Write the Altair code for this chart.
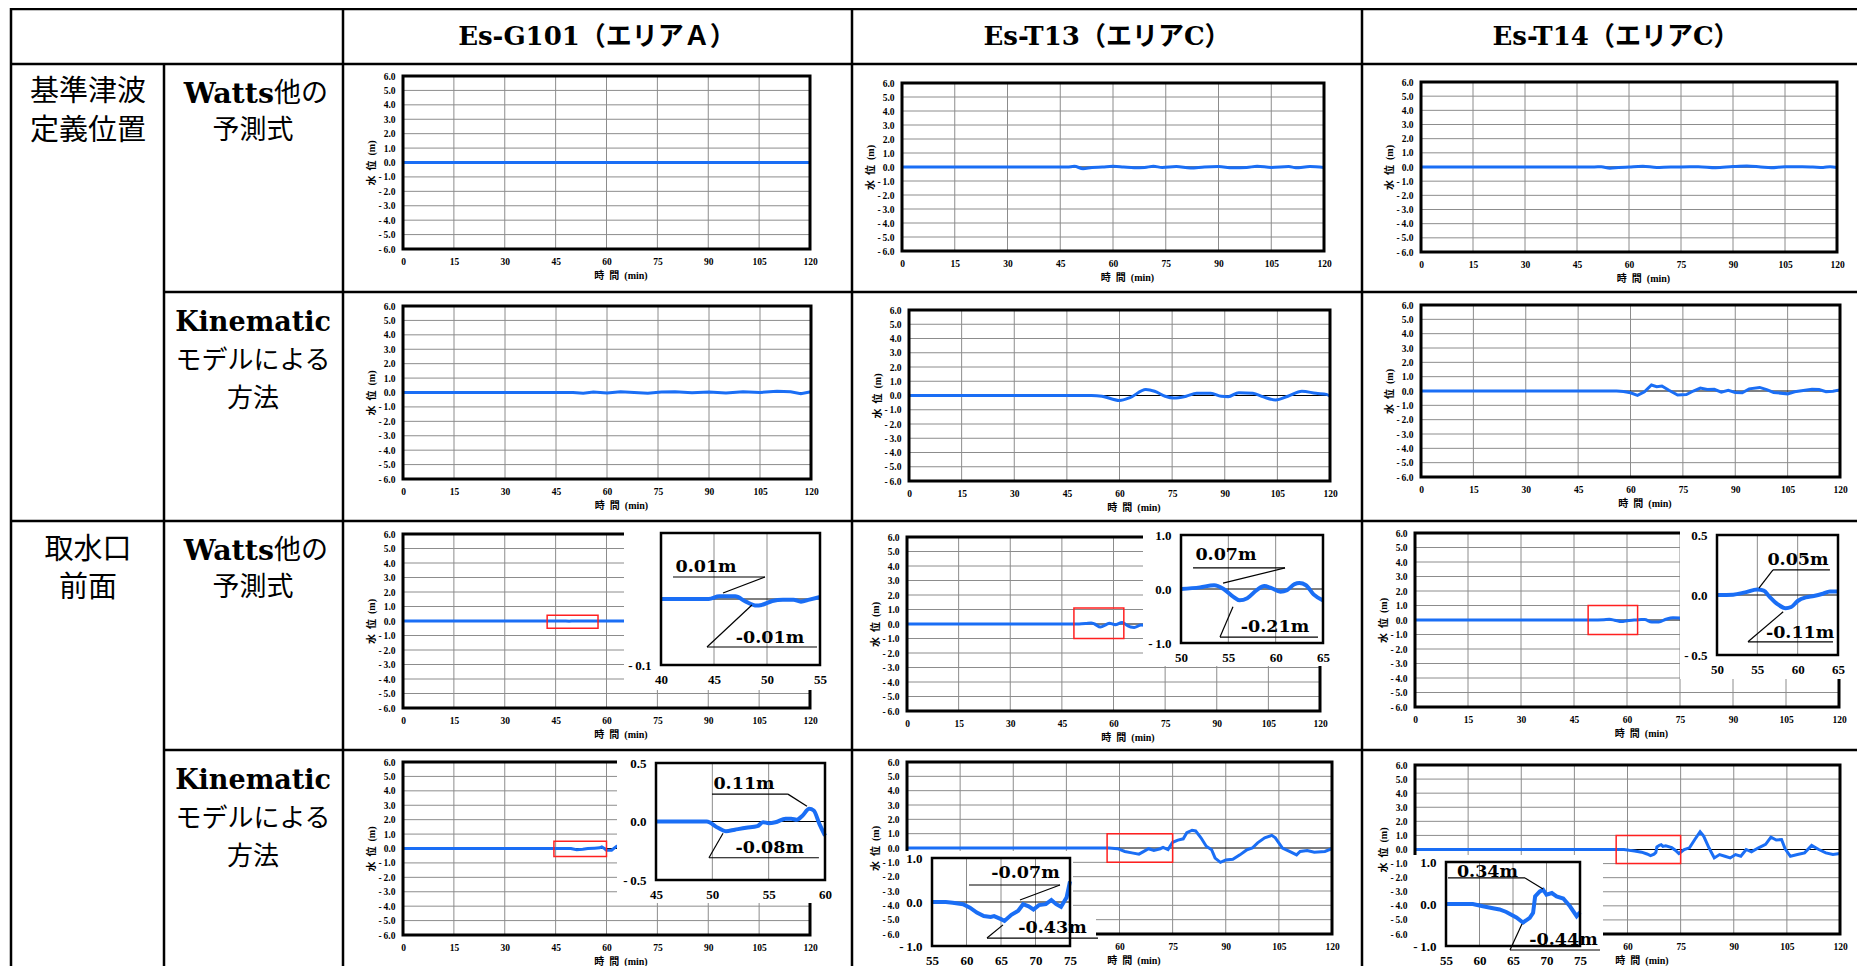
import altair as alt
import pandas as pd

# ======================= DATA =======================
TIME_TICKS = [0, 15, 30, 45, 60, 75, 90, 105, 120]
LEVEL_TICKS = [-6, -5, -4, -3, -2, -1, 0, 1, 2, 3, 4, 5, 6]

X_TITLE = "時\u2002間\u2002(min)"
Y_TITLE = "水\u2002位\u2002(m)"

COLUMN_TITLES = ["Es-G101（エリアＡ）", "Es-T13（エリアC）", "Es-T14（エリアC）"]
PLACE_TITLES = [["基準津波", "定義位置"], ["取水口", "前面"]]
WATTS_TITLE = ["Watts", "他の", "予測式"]
KINEMATIC_TITLE = ["Kinematic", "モデルによる", "方法"]

# --- 基準津波定義位置 / Watts他の予測式
DEF_WATTS_G101_T = [0, 30, 60, 90, 120]
DEF_WATTS_G101_V = [0, 0, 0, 0, 0]
DEF_WATTS_T13_T = [0, 47, 49, 51.5, 54, 57, 60, 63, 66, 69, 71.5, 74, 78, 82, 86, 90, 94, 98, 101, 105, 110, 112, 116, 120]
DEF_WATTS_T13_V = [0, 0, 0.05, -0.12, -0.03, 0.0, 0.05, 0.0, -0.05, -0.03, 0.05, -0.03, 0.03, -0.08, 0.0, 0.03, -0.05, -0.03, 0.05, -0.03, 0.03, -0.05, 0.03, -0.03]
DEF_WATTS_T14_T = [0, 50, 52, 54.5, 57, 60, 64, 68, 72, 75, 80, 85, 90, 94, 98, 101, 105, 110, 113, 116, 118, 120]
DEF_WATTS_T14_V = [0, 0, 0.02, -0.08, -0.04, 0.0, 0.05, -0.03, 0.0, 0.0, 0.02, -0.05, 0.03, 0.07, 0.0, -0.05, 0.02, 0.02, 0.0, -0.03, 0.02, -0.03]

# --- 基準津波定義位置 / Kinematicモデルによる方法
DEF_KIN_G101_T = [0, 50, 53, 56, 60, 64, 68, 72, 76, 80, 85, 90, 95, 100, 105, 110, 114, 117, 120]
DEF_KIN_G101_V = [0, 0, -0.05, 0.03, -0.04, 0.05, 0.0, -0.05, 0.03, 0.05, -0.02, 0.03, -0.03, 0.05, 0.0, 0.08, 0.05, -0.08, 0.05]
DEF_KIN_T13_T = [0, 52, 55, 60, 63, 67.5, 70, 73, 75.5, 79, 82, 86, 89, 91, 94, 98, 101, 104.5, 108, 112, 116, 119, 120]
DEF_KIN_T13_V = [0, 0, -0.05, -0.35, -0.15, 0.42, 0.3, -0.05, -0.18, -0.05, 0.15, 0.15, -0.05, -0.08, 0.2, 0.15, -0.1, -0.32, -0.05, 0.3, 0.15, 0.08, -0.05]
DEF_KIN_T14_T = [0, 56, 58, 60, 62, 64, 66, 67.5, 69, 71, 73.5, 76, 78, 80, 82, 84, 86, 88, 90, 92, 94, 97, 99, 101, 105, 107, 110, 112, 114, 116, 118, 120]
DEF_KIN_T14_V = [0, 0, -0.03, -0.12, -0.3, -0.05, 0.42, 0.3, 0.35, 0.05, -0.28, -0.25, 0.0, 0.2, 0.1, 0.12, -0.08, 0.05, -0.1, -0.12, 0.15, 0.25, 0.1, -0.1, -0.2, -0.05, 0.05, 0.12, 0.1, -0.05, -0.02, 0.08]

# --- 取水口前面 / Watts他の予測式
INT_WATTS_G101_T = [0, 44.5, 45.5, 47, 49, 50.5, 53.2, 55, 60, 65, 70]
INT_WATTS_G101_V = [0, 0, 0.004, 0.004, -0.01, -0.003, -0.004, 0.003, 0, 0, 0]
INT_WATTS_T13_T = [0, 50, 52, 53.5, 54.5, 56.2, 58, 58.8, 60.5, 62.5, 64, 65, 66, 68, 70]
INT_WATTS_T13_V = [0, 0, 0.03, 0.07, 0, -0.21, -0.02, 0.055, -0.05, 0.11, -0.1, -0.21, -0.24, -0.07, -0.1]
INT_WATTS_T14_T = [0, 50, 53.5, 55, 56.5, 58.5, 60, 62, 64, 65, 67, 69, 71, 73, 75, 77]
INT_WATTS_T14_V = [0, 0, 0.022, 0.045, -0.014, -0.11, -0.05, -0.008, 0.03, 0.03, -0.14, -0.14, 0.05, 0.16, 0.14, 0.1]

# --- 取水口前面 / Kinematicモデルによる方法
INT_KIN_G101_T = [0, 45, 49.5, 51.2, 53, 54.5, 56.5, 58, 58.6, 59.5, 60, 61.5, 63, 65]
INT_KIN_G101_V = [0, 0, 0, -0.083, -0.054, -0.006, 0.023, 0.05, 0.109, -0.02, -0.12, -0.12, 0.16, 0.1]
INT_KIN_T13_T = [0, 55, 57, 59.5, 61.5, 63.5, 65.5, 66.5, 68.2, 69.7, 71.5, 72.3, 73.7, 75, 76.5, 78, 79, 80.5, 81.5, 83,
                 84.5, 86, 87, 88.5, 90, 92, 94, 96, 97.5, 99, 101, 103, 104, 106, 108, 110, 111, 113, 115, 118, 120]
INT_KIN_T13_V = [0, 0, 0, -0.05, -0.24, -0.34, -0.43, -0.29, -0.05, -0.17, -0.05, 0.045, -0.11, 0.4, 0.55, 0.64, 1.07, 1.24, 1.19, 0.71,
                 0.12, -0.12, -0.71, -1.0, -0.83, -0.79, -0.48, -0.12, 0, 0.36, 0.71, 0.88, 0.71, 0, -0.24, -0.48, -0.24, -0.17, -0.29, -0.24, -0.05]
INT_KIN_T14_T = [0, 59, 60.5, 62, 64, 65.5, 66.5, 67.5, 68, 68.3, 69, 69.5, 70, 70.8, 72.5, 73.5, 74.5, 75, 76, 77.5,
                 79, 80.5, 81.5, 83, 84.5, 86, 87.5, 89, 90.5, 92, 93.5, 95, 97, 99, 100.5, 102, 103.5, 104.5, 106, 108,
                 110, 112, 114, 116, 118, 120]
INT_KIN_T14_V = [0, 0, -0.055, -0.1, -0.19, -0.32, -0.44, -0.33, -0.21, 0.18, 0.30, 0.34, 0.22, 0.26, 0.13, -0.055, -0.29, -0.2, 0, 0.12,
                 0.71, 1.26, 0.95, 0.12, -0.6, -0.36, -0.48, -0.6, -0.36, -0.48, 0, -0.17, 0.12, 0.36, 0.88, 0.67, 0.71, 0.05, -0.48, -0.36,
                 -0.24, 0.29, 0, -0.24, -0.36, -0.29]

# --- zoom windows (red boxes): t0, t1, v0, v1
RED_WATTS_G101 = [42.5, 57.5, -0.5, 0.4]
RED_WATTS_T13 = [48.5, 63, -1, 1.1]
RED_WATTS_T14 = [49, 63, -1, 1]
RED_KIN_G101 = [44.5, 60, -0.55, 0.5]
RED_KIN_T13 = [56.5, 75, -1, 1]
RED_KIN_T14 = [56.8, 75, -1, 1]

# --- enlarged views
ZOOM_WATTS_G101_T = [40, 44.5, 45.5, 47, 48, 49, 49.5, 50.5, 51.5, 52.5, 53.2, 54, 55]
ZOOM_WATTS_G101_V = [0, 0, 0.004, 0.004, -0.004, -0.01, -0.009, -0.003, -0.001, -0.001, -0.004, -0.001, 0.003]
ZOOM_WATTS_T13_T = [50, 52, 53.5, 54.5, 55.5, 56.2, 57, 58, 58.8, 59.5, 60.5, 61.2, 62, 62.5, 63.2, 64, 65]
ZOOM_WATTS_T13_V = [0, 0.03, 0.07, 0, -0.14, -0.21, -0.17, -0.02, 0.055, 0.02, -0.05, -0.02, 0.09, 0.11, 0.07, -0.1, -0.21]
ZOOM_WATTS_T14_T = [50, 52, 53.5, 55, 55.8, 56.5, 57.5, 58.5, 59.2, 60, 61, 62, 63, 64, 65]
ZOOM_WATTS_T14_V = [0, 0.003, 0.022, 0.045, 0.036, -0.014, -0.076, -0.11, -0.1, -0.05, -0.02, -0.008, 0.008, 0.03, 0.03]
ZOOM_KIN_G101_T = [45, 49.5, 50.5, 51.2, 52, 53, 54, 54.5, 55, 55.6, 56.5, 57, 57.5, 58, 58.6, 59, 59.5, 60]
ZOOM_KIN_G101_V = [0, 0, -0.054, -0.083, -0.07, -0.054, -0.04, -0.006, -0.014, -0.006, 0.023, 0.023, 0.015, 0.05, 0.109, 0.094, -0.02, -0.12]
ZOOM_KIN_T13_T = [55, 57, 58, 59.5, 60.5, 61.5, 62.5, 63.5, 64, 65, 65.5, 66.5, 67.5, 68.2, 69, 69.7, 70.5, 71.5, 72.3, 73, 73.7, 74.5, 75]
ZOOM_KIN_T13_V = [0, 0, -0.015, -0.05, -0.13, -0.24, -0.32, -0.34, -0.32, -0.39, -0.43, -0.29, -0.2, -0.05, -0.1, -0.17, -0.07, -0.05, 0.045, -0.05, -0.11, 0.1, 0.47]
ZOOM_KIN_T14_T = [55, 59, 60.5, 62, 63, 64, 65.5, 66.5, 67.5, 68, 68.3, 69, 69.5, 70, 70.8, 71.5, 72.5, 73.5, 74.5, 75]
ZOOM_KIN_T14_V = [0, 0, -0.055, -0.1, -0.13, -0.19, -0.32, -0.44, -0.33, -0.21, 0.18, 0.30, 0.34, 0.22, 0.26, 0.18, 0.13, -0.055, -0.29, -0.2]

ZOOM_WATTS_G101_DOM = ([40, 55], [-0.1, 0.1]); ZOOM_WATTS_G101_TICKS = ([40, 45, 50, 55], [-0.1])
ZOOM_WATTS_T13_DOM = ([50, 65], [-1, 1]);      ZOOM_WATTS_T13_TICKS = ([50, 55, 60, 65], [-1, 0, 1])
ZOOM_WATTS_T14_DOM = ([50, 65], [-0.5, 0.5]);  ZOOM_WATTS_T14_TICKS = ([50, 55, 60, 65], [-0.5, 0, 0.5])
ZOOM_KIN_G101_DOM = ([45, 60], [-0.5, 0.5]);   ZOOM_KIN_G101_TICKS = ([45, 50, 55, 60], [-0.5, 0, 0.5])
ZOOM_KIN_T13_DOM = ([55, 75], [-1, 1]);        ZOOM_KIN_T13_TICKS = ([55, 60, 65, 70, 75], [-1, 0, 1])
ZOOM_KIN_T14_DOM = ([55, 75], [-1, 1]);        ZOOM_KIN_T14_TICKS = ([55, 60, 65, 70, 75], [-1, 0, 1])

NOTE_WATTS_G101 = ["0.01m", "-0.01m"]
NOTE_WATTS_T13 = ["0.07m", "-0.21m"]
NOTE_WATTS_T14 = ["0.05m", "-0.11m"]
NOTE_KIN_G101 = ["0.11m", "-0.08m"]
NOTE_KIN_T13 = ["-0.07m", "-0.43m"]
NOTE_KIN_T14 = ["0.34m", "-0.44m"]

# time labels left visible where the enlarged view sits over the lower-left of the plot
TIME_TICKS_UNCOVERED = [60, 75, 90, 105, 120]

# ======================= LAYOUT / STYLE =======================
M = 8                      # page margin
VIEW_W, VIEW_H = 1849, 958
BLUE = "#1a6ef5"
GRID = "#8c8c8c"
RED = "#ff2020"
TICK_FONT = "Liberation Serif"
TITLE_FONT = "Liberation Serif, Noto Sans CJK JP"
HEAD_FONT = "DejaVu Serif, Noto Sans CJK JP"
JP_FONT = "Noto Sans CJK JP"
MINUS_EXPR = "datum.value < 0 ? '-\u2009' + format(-datum.value, '.1f') : format(datum.value, '.1f')"


def X(v):
    return v - M


def Y(v):
    return v - M


# plot boxes (page px): left, top, right, bottom
MAIN_BOX = {
    (0, 0): (403, 76, 810, 249), (0, 1): (902, 83, 1324, 251), (0, 2): (1421, 82, 1837, 252),
    (1, 0): (403, 306, 811, 479), (1, 1): (909, 310, 1330, 481), (1, 2): (1421, 305, 1840, 477),
    (2, 0): (403, 534, 810, 708), (2, 1): (907, 537, 1320, 711), (2, 2): (1415, 533, 1839, 707),
    (3, 0): (403, 762, 810, 935), (3, 1): (907, 762, 1332, 934), (3, 2): (1415, 765, 1840, 934),
}
INSET_BOX = {
    (2, 0): (661, 533, 820, 665), (2, 1): (1181, 535, 1323, 643), (2, 2): (1717, 535, 1838, 655),
    (3, 0): (656, 763, 825, 880), (3, 1): (932, 858, 1070, 946), (3, 2): (1446, 862, 1580, 946),
}
BACKDROP = {
    (2, 0): [(624, 523, 832, 690)], (2, 1): [(1143, 523, 1338, 666)], (2, 2): [(1680, 523, 1865, 679)],
    (3, 0): [(617, 752, 832, 903)], (3, 1): [(903, 851, 1073, 974), (1073, 916, 1096, 950)],
    (3, 2): [(1413, 855, 1603, 974)],
}
# annotation placement in the enlarged view's data units
NOTE_POS = {
    (2, 0): dict(tc=[44.25, 50.28], vc=[0.0485, -0.059], u=[(41.13, 49.81, 0.0333), (44.34, 54.72, -0.0727)],
                 l=[(49.81, 0.0333, 45.85, 0.0091), (44.34, -0.0727, 48.58, -0.009)]),
    (2, 1): dict(tc=[54.75, 59.93], vc=[0.63, -0.70], u=[(51.27, 60.99, 0.39), (54.12, 64.47, -0.89)],
                 l=[(60.99, 0.39, 54.44, 0.11), (54.12, -0.89, 55.49, -0.33)]),
    (2, 2): dict(tc=[60.04, 60.3], vc=[0.29, -0.32], u=[(56.94, 64.0, 0.21), (53.84, 64.38, -0.39)],
                 l=[(56.94, 0.21, 55.2, 0.058), (53.84, -0.39, 58.2, -0.14)]),
    (3, 0): dict(tc=[52.81, 55.1], vc=[0.32, -0.227], u=[(49.97, 56.71, 0.234), (49.7, 59.46, -0.31)],
                 l=[(56.71, 0.234, 58.4, 0.13), (49.7, -0.31, 50.95, -0.1)]),
    (3, 1): dict(tc=[68.55, 72.46], vc=[0.66, -0.59], u=[(60.36, 73.55, 0.386), (62.97, 79.06, -0.82)],
                 l=[(73.55, 0.386, 67.75, 0.045), (62.97, -0.82, 65.29, -0.52)]),
    (3, 2): dict(tc=[61.19, 72.54], vc=[0.76, -0.857], u=[(55.3, 66.8, 0.62), (64.55, 77.99, -1.095)],
                 l=[(66.8, 0.62, 69.48, 0.357), (64.55, -1.095, 66.34, -0.476)]),
}

MAIN_SERIES = {
    (0, 0): (DEF_WATTS_G101_T, DEF_WATTS_G101_V, "monotone", None),
    (0, 1): (DEF_WATTS_T13_T, DEF_WATTS_T13_V, "monotone", None),
    (0, 2): (DEF_WATTS_T14_T, DEF_WATTS_T14_V, "monotone", None),
    (1, 0): (DEF_KIN_G101_T, DEF_KIN_G101_V, "linear", None),
    (1, 1): (DEF_KIN_T13_T, DEF_KIN_T13_V, "monotone", None),
    (1, 2): (DEF_KIN_T14_T, DEF_KIN_T14_V, "linear", None),
    (2, 0): (INT_WATTS_G101_T, INT_WATTS_G101_V, "monotone", RED_WATTS_G101),
    (2, 1): (INT_WATTS_T13_T, INT_WATTS_T13_V, "monotone", RED_WATTS_T13),
    (2, 2): (INT_WATTS_T14_T, INT_WATTS_T14_V, "monotone", RED_WATTS_T14),
    (3, 0): (INT_KIN_G101_T, INT_KIN_G101_V, "linear", RED_KIN_G101),
    (3, 1): (INT_KIN_T13_T, INT_KIN_T13_V, "linear", RED_KIN_T13),
    (3, 2): (INT_KIN_T14_T, INT_KIN_T14_V, "linear", RED_KIN_T14),
}
X_LABELS = {(3, 1): TIME_TICKS_UNCOVERED, (3, 2): TIME_TICKS_UNCOVERED}
INSET_SERIES = {
    (2, 0): (ZOOM_WATTS_G101_T, ZOOM_WATTS_G101_V, ZOOM_WATTS_G101_DOM, ZOOM_WATTS_G101_TICKS, "monotone", NOTE_WATTS_G101),
    (2, 1): (ZOOM_WATTS_T13_T, ZOOM_WATTS_T13_V, ZOOM_WATTS_T13_DOM, ZOOM_WATTS_T13_TICKS, "monotone", NOTE_WATTS_T13),
    (2, 2): (ZOOM_WATTS_T14_T, ZOOM_WATTS_T14_V, ZOOM_WATTS_T14_DOM, ZOOM_WATTS_T14_TICKS, "monotone", NOTE_WATTS_T14),
    (3, 0): (ZOOM_KIN_G101_T, ZOOM_KIN_G101_V, ZOOM_KIN_G101_DOM, ZOOM_KIN_G101_TICKS, "monotone", NOTE_KIN_G101),
    (3, 1): (ZOOM_KIN_T13_T, ZOOM_KIN_T13_V, ZOOM_KIN_T13_DOM, ZOOM_KIN_T13_TICKS, "linear", NOTE_KIN_T13),
    (3, 2): (ZOOM_KIN_T14_T, ZOOM_KIN_T14_V, ZOOM_KIN_T14_DOM, ZOOM_KIN_T14_TICKS, "linear", NOTE_KIN_T14),
}

layers = []


def scales(box, tdom, vdom):
    x0, y0, x1, y1 = box
    xs = alt.Scale(domain=list(tdom), range=[X(x0), X(x1)], nice=False, zero=False)
    ys = alt.Scale(domain=list(vdom), range=[Y(y1), Y(y0)], nice=False, zero=False)
    return xs, ys


def common_axis(size, pad, zi):
    return dict(labelFont=TICK_FONT, labelFontSize=size, labelFontWeight="bold", labelColor="black",
                labelPadding=pad, labelFlush=False, labelOverlap=False, ticks=False, tickSize=0,
                domain=False, grid=False, zindex=zi)


def x_axis(box, values, size, pad, zi, with_title):
    x0, y0, x1, y1 = box
    kw = common_axis(size, pad, zi)
    kw.update(values=values, orient="bottom", offset=Y(y1) - VIEW_H, format="d")
    if with_title:
        kw.update(title=X_TITLE, titleX=(X(x0) + X(x1)) / 2 + 14, titleY=26, titleFont=TITLE_FONT,
                  titleFontSize=10, titleFontWeight="bold", titleColor="black", titleAlign="center",
                  titleBaseline="middle")
    else:
        kw.update(title=None)
    return alt.Axis(**kw)


def y_axis(box, values, size, pad, zi, with_title):
    x0, y0, x1, y1 = box
    kw = common_axis(size, pad, zi)
    kw.update(values=values, orient="left", offset=-X(x0), labelExpr=MINUS_EXPR)
    if with_title:
        kw.update(title=Y_TITLE, titleX=-32, titleY=(Y(y0) + Y(y1)) / 2, titleAngle=270, titleFont=TITLE_FONT,
                  titleFontSize=10, titleFontWeight="bold", titleColor="black", titleAlign="center",
                  titleBaseline="middle")
    else:
        kw.update(title=None)
    return alt.Axis(**kw)


def frame(box, tdom, vdom, t, v, xgrid, ygrid, xax, yax, line_w, frame_w, interp):
    xs, ys = scales(box, tdom, vdom)
    out = []
    if xgrid:
        d = pd.DataFrame({"t": xgrid, "lo": vdom[0], "hi": vdom[1]})
        out.append(alt.Chart(d).mark_rule(color=GRID, strokeWidth=1).encode(
            x=alt.X("t:Q", scale=xs, axis=None), y=alt.Y("lo:Q", scale=ys, axis=None), y2=alt.Y2("hi")))
    if ygrid:
        d = pd.DataFrame({"v": ygrid, "lo": tdom[0], "hi": tdom[1]})
        out.append(alt.Chart(d).mark_rule(color=GRID, strokeWidth=1).encode(
            y=alt.Y("v:Q", scale=ys, axis=None), x=alt.X("lo:Q", scale=xs, axis=None), x2=alt.X2("hi")))
    d = pd.DataFrame({"v": [0], "lo": [tdom[0]], "hi": [tdom[1]]})
    out.append(alt.Chart(d).mark_rule(color="black", strokeWidth=1).encode(
        y=alt.Y("v:Q", scale=ys, axis=None), x=alt.X("lo:Q", scale=xs, axis=None), x2=alt.X2("hi")))
    d = pd.DataFrame({"t": t, "v": v})
    out.append(alt.Chart(d).mark_line(color=BLUE, strokeWidth=line_w, interpolate=interp).encode(
        x=alt.X("t:Q", scale=xs, axis=xax), y=alt.Y("v:Q", scale=ys, axis=yax)))
    d = pd.DataFrame({"t0": [tdom[0]], "t1": [tdom[1]], "v0": [vdom[0]], "v1": [vdom[1]]})
    out.append(alt.Chart(d).mark_rect(fillOpacity=0, stroke="black", strokeWidth=frame_w).encode(
        x=alt.X("t0:Q", scale=xs, axis=None), x2=alt.X2("t1"),
        y=alt.Y("v0:Q", scale=ys, axis=None), y2=alt.Y2("v1")))
    return out, xs, ys


# ---- main panels
TDOM = [TIME_TICKS[0], TIME_TICKS[-1]]
VDOM = [LEVEL_TICKS[0], LEVEL_TICKS[-1]]
for key, (t, v, interp, red) in MAIN_SERIES.items():
    box = MAIN_BOX[key]
    xax = x_axis(box, X_LABELS.get(key, TIME_TICKS), 9.5, 7, 0, True)
    yax = y_axis(box, LEVEL_TICKS, 9.5, 8, 0, True)
    out, xs, ys = frame(box, TDOM, VDOM, t, v, TIME_TICKS[1:-1],
                        [l for l in LEVEL_TICKS[1:-1] if l != 0], xax, yax, 3, 3, interp)
    layers += out
    if red:
        d = pd.DataFrame({"t0": [red[0]], "t1": [red[1]], "v0": [red[2]], "v1": [red[3]]})
        layers.append(alt.Chart(d).mark_rect(fillOpacity=0, stroke=RED, strokeWidth=1.5).encode(
            x=alt.X("t0:Q", scale=xs, axis=None), x2=alt.X2("t1"),
            y=alt.Y("v0:Q", scale=ys, axis=None), y2=alt.Y2("v1")))

ONE = pd.DataFrame({"k": [0]})

# ---- enlarged views
for key, (t, v, dom, ticks, interp, notes) in INSET_SERIES.items():
    for (a, b, c, e) in BACKDROP[key]:
        layers.append(alt.Chart(ONE).mark_rect(color="white").encode(
            x=alt.value(X(a)), x2=alt.value(X(c)), y=alt.value(Y(b)), y2=alt.value(Y(e))))
    box = INSET_BOX[key]
    tdom, vdom = dom
    xax = x_axis(box, ticks[0], 13, 8, 1, False)
    yax = y_axis(box, ticks[1], 13, 10, 1, False)
    out, xs, ys = frame(box, tdom, vdom, t, v, ticks[0][1:-1], [], xax, yax, 4, 2.5, interp)
    layers += out
    p = NOTE_POS[key]
    d = pd.DataFrame({"t0": [u[0] for u in p["u"]], "t1": [u[1] for u in p["u"]], "v": [u[2] for u in p["u"]]})
    layers.append(alt.Chart(d).mark_rule(color="black", strokeWidth=1.2).encode(
        x=alt.X("t0:Q", scale=xs, axis=None), x2=alt.X2("t1"), y=alt.Y("v:Q", scale=ys, axis=None)))
    d = pd.DataFrame({"ta": [q[0] for q in p["l"]], "va": [q[1] for q in p["l"]],
                      "tb": [q[2] for q in p["l"]], "vb": [q[3] for q in p["l"]]})
    layers.append(alt.Chart(d).mark_rule(color="black", strokeWidth=1.2).encode(
        x=alt.X("ta:Q", scale=xs, axis=None), y=alt.Y("va:Q", scale=ys, axis=None),
        x2=alt.X2("tb"), y2=alt.Y2("vb")))
    d = pd.DataFrame({"t": p["tc"], "v": p["vc"], "label": notes})
    layers.append(alt.Chart(d).mark_text(font="DejaVu Serif", fontWeight="bold", fontSize=17.5,
                                         align="center", baseline="middle", color="black").encode(
        x=alt.X("t:Q", scale=xs, axis=None), y=alt.Y("v:Q", scale=ys, axis=None), text="label:N"))

# ---- table grid
V_LINES = [(11, 8, 974), (164, 64, 974), (343, 8, 974), (852, 8, 974), (1362, 8, 974)]
H_LINES = [(11, 1865, 9), (11, 1865, 64), (164, 1865, 292), (11, 1865, 521), (164, 1865, 750)]
for (x, ya, yb) in V_LINES:
    layers.append(alt.Chart(ONE).mark_rule(color="black", strokeWidth=2.5).encode(
        x=alt.value(X(x)), y=alt.value(Y(ya)), y2=alt.value(Y(yb))))
for (xa, xb, y) in H_LINES:
    layers.append(alt.Chart(ONE).mark_rule(color="black", strokeWidth=2.5).encode(
        x=alt.value(X(xa)), x2=alt.value(X(xb)), y=alt.value(Y(y))))


def label(text, x, y, font, size, weight="normal", align="center"):
    return alt.Chart(ONE).mark_text(text=text, font=font, fontSize=size, fontWeight=weight, align=align,
                                    baseline="middle", color="black").encode(x=alt.value(X(x)), y=alt.value(Y(y)))


COL_CENTER = [597, 1107, 1616]
for title, cx in zip(COLUMN_TITLES, COL_CENTER):
    layers.append(label(title, cx, 37, HEAD_FONT, 26, "bold"))

PLACE_Y = [[92, 131], [550, 588]]
for lines, ys_ in zip(PLACE_TITLES, PLACE_Y):
    for s, yy in zip(lines, ys_):
        layers.append(label(s, 88, yy, JP_FONT, 29))

ROW_TOP = [64, 292, 521, 750]
for r, top in enumerate(ROW_TOP):
    if r % 2 == 0:
        layers.append(label(WATTS_TITLE[0], 274, top + 30, "DejaVu Serif", 28.5, "bold", "right"))
        layers.append(label(WATTS_TITLE[1], 274, top + 30, JP_FONT, 27, "normal", "left"))
        layers.append(label(WATTS_TITLE[2], 253, top + 67, JP_FONT, 27))
    else:
        layers.append(label(KINEMATIC_TITLE[0], 253, top + 31, "DejaVu Serif", 27, "bold"))
        layers.append(label(KINEMATIC_TITLE[1], 253, top + 69, JP_FONT, 26))
        layers.append(label(KINEMATIC_TITLE[2], 253, top + 107, JP_FONT, 26))

chart = alt.layer(*layers).resolve_scale(x="independent", y="independent").properties(
    width=VIEW_W, height=VIEW_H, padding=0, autosize=alt.AutoSizeParams(type="none")
).configure_view(strokeWidth=0)

chart.save("out.html", embed_options={"renderer": "svg", "actions": False})
